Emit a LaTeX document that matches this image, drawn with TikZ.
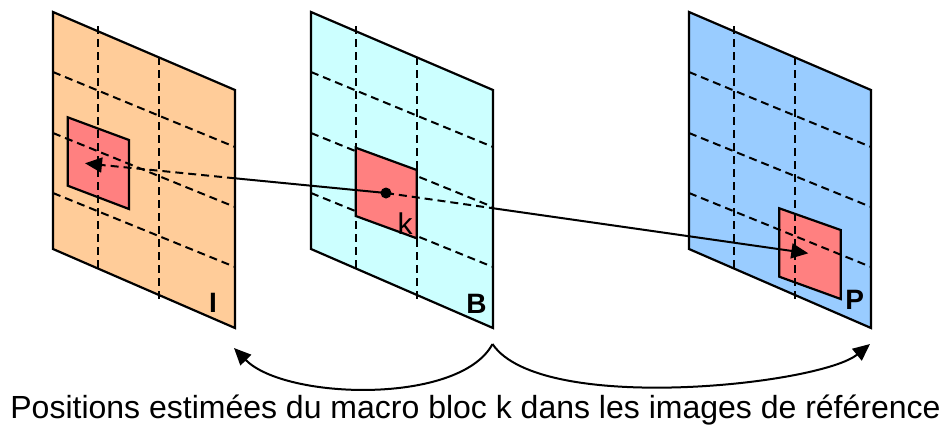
\documentclass[tikz,border=0pt]{standalone}
\usepackage{fontspec}
\setmainfont{Liberation Sans}
\usetikzlibrary{arrows.meta}
\definecolor{frameI}{HTML}{FFCC99}
\definecolor{frameB}{HTML}{CCFFFF}
\definecolor{frameP}{HTML}{99CCFF}
\definecolor{blockred}{HTML}{FF8080}
\tikzset{
  frameline/.style={line width=2.2pt, line join=miter},
  gridline/.style={line width=2pt, dash pattern=on 8pt off 5pt},
  blockbox/.style={line width=2.2pt, fill=blockred},
  conn/.style={line width=2pt},
  tip/.style={-{Triangle[length=17pt,width=15pt]}},
  letter/.style={font=\bfseries\fontsize{28}{30}\selectfont, anchor=base, inner sep=0pt},
}
\newcommand{\myframefill}[2]{%
  \begin{scope}[shift={(#1,12)}]
    \fill[#2] (0,0) -- (182,78) -- (182,316) -- (0,237) -- cycle;
  \end{scope}}
\newcommand{\mygrid}[1]{%
  \begin{scope}[shift={(#1,12)}]
    \draw[gridline] (45,14) -- (45,257);
    \draw[gridline] (106,45) -- (106,288);
    \draw[gridline] (0,60) -- (182,135);
    \draw[gridline] (0,121) -- (182,195);
    \draw[gridline] (0,181) -- (182,255);
  \end{scope}}
\newcommand{\myframeline}[1]{%
  \begin{scope}[shift={(#1,12)}]
    \draw[frameline] (0,0) -- (182,78) -- (182,316) -- (0,237) -- cycle;
  \end{scope}}
\begin{document}
\begin{tikzpicture}[x=1pt,y=-1pt]
\useasboundingbox (0,0) rectangle (944,424);
% frame I
\myframefill{53}{frameI}
\draw[blockbox] (67.7,117.3) -- (129,140) -- (129,209) -- (67.7,185.7) -- cycle;
\mygrid{53}
\myframeline{53}
% frame B
\myframefill{311}{frameB}
\mygrid{311}
\draw[blockbox] (355.7,147.7) -- (416.7,170) -- (416.7,238.3) -- (355.7,216) -- cycle;
\myframeline{311}
% frame P
\myframefill{689}{frameP}
\draw[blockbox] (779.3,208.3) -- (840.7,230) -- (840.7,299) -- (779.3,276.7) -- cycle;
\mygrid{689}
\myframeline{689}
% labels
\node[letter] (labI) at (213,312) {I};
\node[letter] (labB) at (476.5,313.3) {B};
\node[letter] (labP) at (854.7,309.3) {P};
\node[anchor=base, inner sep=0pt, font=\fontsize{30}{32}\selectfont] (labk) at (405,234) {k};
% motion vectors
\coordinate (dot) at (386,193);
\coordinate (Itip) at (85,163.3);
\coordinate (Ptip) at (808.3,253.3);
\coordinate (Iedge) at (235,178.3);
\coordinate (Bedge) at (492.7,208.2);
\draw[conn] (dot) -- (Iedge);
\draw[conn, dash pattern=on 8pt off 5pt, tip] (Iedge) -- (Itip);
\draw[conn, dash pattern=on 8pt off 5pt] (dot) -- (Bedge);
\draw[conn, tip] (Bedge) -- (Ptip);
\fill (dot) circle (5.5);
% bottom arrows
\coordinate (cusp) at (492.5,344);
\coordinate (ltip) at (234,348);
\coordinate (rtip) at (870,344);
\draw[conn, tip] (cusp) .. controls (460,405) and (285,400) .. (ltip);
\draw[conn, tip] (cusp) .. controls (540,415) and (820,385) .. (rtip);
\node[anchor=base, inner sep=0pt, font=\fontsize{32}{34}\selectfont] (caption) at (475.5,418) {Positions estimées du macro bloc k dans les images de référence};
\end{tikzpicture}
\end{document}
